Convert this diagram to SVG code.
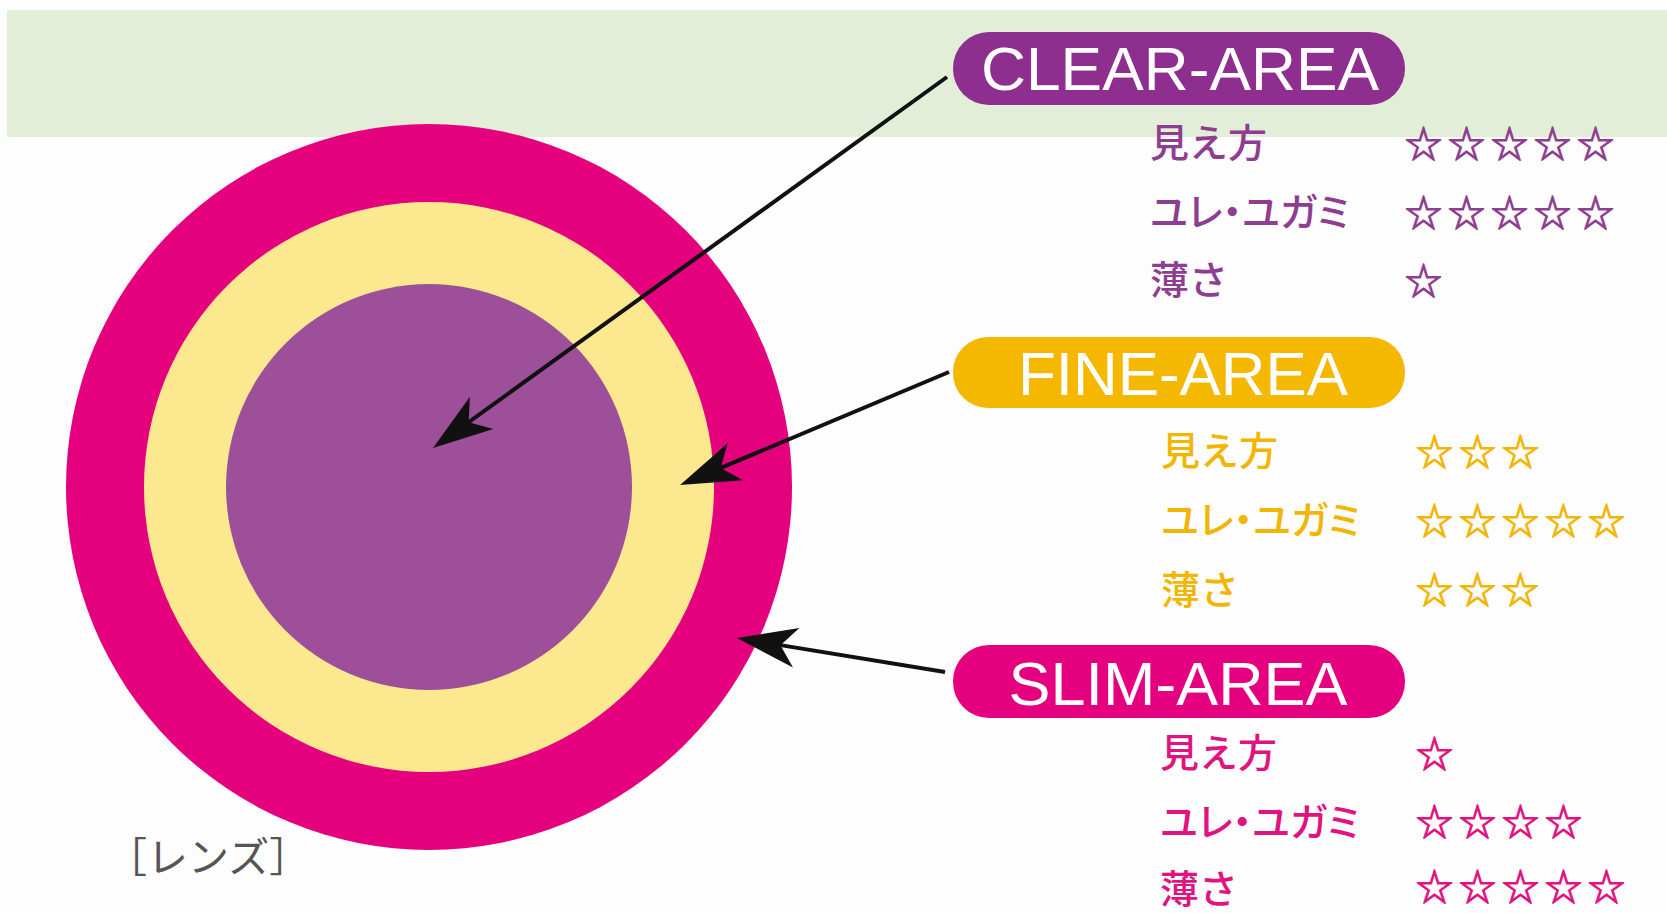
<svg xmlns="http://www.w3.org/2000/svg" width="1667" height="913" viewBox="0 0 1667 913">
<defs>
<style>
.pill-text{font-family:"Liberation Sans",Arial,sans-serif;font-size:61px;fill:#ffffff;text-anchor:middle}
.jp{font-family:"Noto Sans CJK JP","Noto Sans CJK SC",sans-serif;font-size:39px;font-weight:500}
.pt{font-feature-settings:"palt"}
.star{font-family:"Noto Sans CJK JP","DejaVu Sans",sans-serif;font-size:37px;letter-spacing:6px;stroke-width:1.1}
.clear{fill:#8f3d90;stroke:#8f3d90}
.fine{fill:#f2b600;stroke:#f2b600}
.slim{fill:#e0137f;stroke:#e0137f}
.jp.clear,.jp.fine,.jp.slim{stroke:none}
.conn{stroke:#111111;stroke-width:4;fill:none}
</style>
<marker id="ah" markerUnits="userSpaceOnUse" markerWidth="60" markerHeight="40" refX="30" refY="20" orient="auto" overflow="visible">
<path d="M0,0 L60,20 L0,40 L16,20 Z" fill="#111111"/>
</marker>
</defs>
<rect x="0" y="0" width="1667" height="913" fill="#fdfdfe"/>
<rect x="7" y="10" width="1660" height="127" fill="#e3eed9"/>
<g id="lens">
<circle cx="429" cy="487" r="363" fill="#e5007e"/>
<circle cx="429" cy="487" r="285" fill="#fce98f"/>
<circle cx="429" cy="487" r="203" fill="#9e4f9a"/>
<text x="106" y="872" font-family="'Noto Sans CJK JP',sans-serif" font-size="41" fill="#555555">［レンズ］</text>
</g>
<g id="clear-area">
<rect x="953" y="32" width="452" height="73" rx="36" fill="#8e2e8e"/>
<text class="pill-text" x="1180" y="90" textLength="398" lengthAdjust="spacingAndGlyphs">CLEAR-AREA</text>
<text class="jp clear" x="1150" y="157">見え方</text>
<text class="jp clear pt" x="1150" y="226">ユレ・ユガミ</text>
<text class="jp clear" x="1150" y="294">薄さ</text>
<text class="star clear" x="1405" y="158">☆☆☆☆☆</text>
<text class="star clear" x="1405" y="227">☆☆☆☆☆</text>
<text class="star clear" x="1405" y="295">☆</text>
</g>
<g id="fine-area">
<rect x="953" y="337" width="452" height="71" rx="35" fill="#f5b800"/>
<text class="pill-text" x="1183" y="395" textLength="330" lengthAdjust="spacingAndGlyphs">FINE-AREA</text>
<text class="jp fine" x="1161" y="465">見え方</text>
<text class="jp fine pt" x="1161" y="534">ユレ・ユガミ</text>
<text class="jp fine" x="1161" y="604">薄さ</text>
<text class="star fine" x="1416" y="466">☆☆☆</text>
<text class="star fine" x="1416" y="535">☆☆☆☆☆</text>
<text class="star fine" x="1416" y="604">☆☆☆</text>
</g>
<g id="slim-area">
<rect x="953" y="645" width="452" height="73" rx="36" fill="#e4007f"/>
<text class="pill-text" x="1178" y="705" textLength="339" lengthAdjust="spacingAndGlyphs">SLIM-AREA</text>
<text class="jp slim" x="1160" y="767">見え方</text>
<text class="jp slim pt" x="1160" y="836">ユレ・ユガミ</text>
<text class="jp slim" x="1160" y="903">薄さ</text>
<text class="star slim" x="1416" y="768">☆</text>
<text class="star slim" x="1416" y="836">☆☆☆☆</text>
<text class="star slim" x="1416" y="901">☆☆☆☆☆</text>
</g>
<g id="connectors">
<line class="conn" x1="947" y1="77" x2="457.3" y2="430.4" marker-end="url(#ah)"/>
<line class="conn" x1="949" y1="372" x2="707.7" y2="473.4" marker-end="url(#ah)"/>
<line class="conn" x1="945" y1="672" x2="766.6" y2="642.9" marker-end="url(#ah)"/>
</g>
</svg>
